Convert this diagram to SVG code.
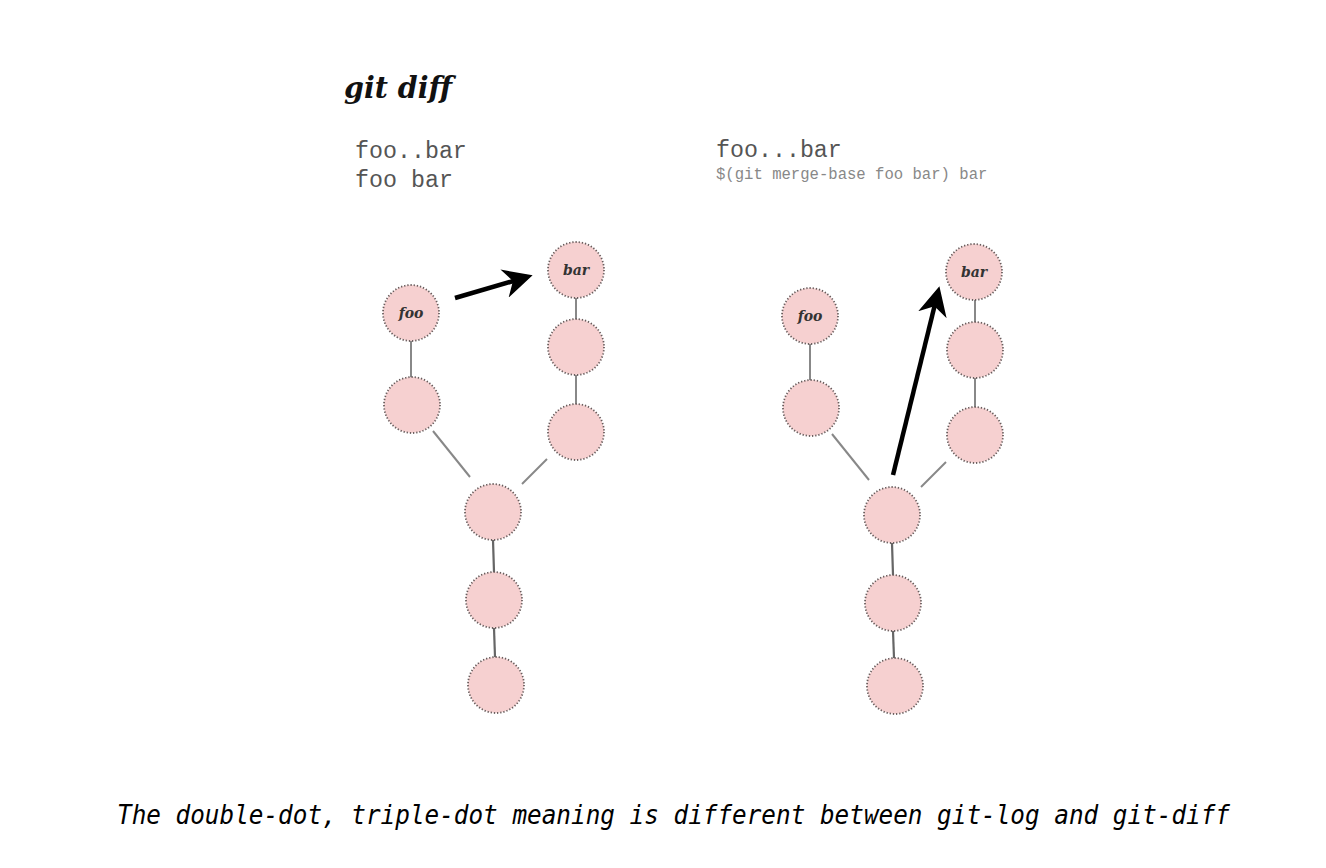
<svg xmlns="http://www.w3.org/2000/svg" width="1326" height="868" viewBox="0 0 1326 868">
<style>
.n{fill:#f6d0d0;stroke:#6a5e5e;stroke-width:1.8;stroke-dasharray:1.3 1.9}
.e{stroke:#888;stroke-width:2;fill:none}
.e2{stroke:#666;stroke-width:2.2;fill:none}
.lbl{font-family:"DejaVu Serif","Liberation Serif",serif;font-style:italic;font-weight:bold;font-size:14px;fill:#333;text-anchor:middle}
.mono{font-family:"Liberation Mono","Courier New",monospace;fill:#555}
.arr{stroke:#000;stroke-width:4.5;fill:none}
</style>
<defs>
<marker id="ah" viewBox="0 0 10 10" refX="8" refY="5" markerWidth="6.5" markerHeight="6.5" markerUnits="strokeWidth" orient="auto">
<path d="M0,0 L10,5 L0,10 L3,5 z" fill="#000"/>
</marker>
</defs>
<rect width="1326" height="868" fill="#fff"/>
<text x="344" y="98" font-family="DejaVu Serif, Liberation Serif, serif" font-style="italic" font-weight="bold" font-size="30" fill="#111" textLength="108" lengthAdjust="spacingAndGlyphs">git diff</text>
<text class="mono" x="355" y="158" font-size="23.3">foo..bar</text>
<text class="mono" x="355" y="187" font-size="23.3">foo bar</text>
<text class="mono" x="716" y="157" font-size="23.3">foo...bar</text>
<text class="mono" x="716" y="179" font-size="15.6" style="fill:#888">$(git merge-base foo bar) bar</text>
<g id="connectors">
<line class="e" x1="411" y1="341" x2="411" y2="378"/>
<line class="e" x1="576" y1="298" x2="576" y2="320"/>
<line class="e" x1="576" y1="375" x2="576" y2="404"/>
<line class="e" x1="433" y1="431" x2="470" y2="477"/>
<line class="e" x1="547" y1="459" x2="522" y2="484"/>
<line class="e2" x1="493" y1="540" x2="494" y2="572"/>
<line class="e2" x1="494" y1="628" x2="495" y2="657"/>
<line class="arr" x1="455" y1="298" x2="527" y2="277" marker-end="url(#ah)"/>
<line class="e" x1="810" y1="344" x2="810" y2="380"/>
<line class="e" x1="975" y1="300" x2="975" y2="322"/>
<line class="e" x1="975" y1="378" x2="975" y2="407"/>
<line class="e" x1="832" y1="434" x2="869" y2="480"/>
<line class="e" x1="946" y1="462" x2="921" y2="487"/>
<line class="e2" x1="892" y1="543" x2="893" y2="575"/>
<line class="e2" x1="893" y1="631" x2="894" y2="658"/>
<line class="arr" x1="893" y1="475" x2="938" y2="292" marker-end="url(#ah)"/>
</g>
<g id="L-foo"><circle class="n" cx="411" cy="313" r="28"/><text class="lbl" x="411" y="318">foo</text></g>
<g id="L-bar"><circle class="n" cx="576" cy="270" r="28"/><text class="lbl" x="576" y="275">bar</text></g>
<g id="L-f1"><circle class="n" cx="412" cy="405" r="28"/></g>
<g id="L-b1"><circle class="n" cx="576" cy="347" r="28"/></g>
<g id="L-b2"><circle class="n" cx="576" cy="432" r="28"/></g>
<g id="L-m"><circle class="n" cx="493" cy="512" r="28"/></g>
<g id="L-c1"><circle class="n" cx="494" cy="600" r="28"/></g>
<g id="L-c2"><circle class="n" cx="496" cy="685" r="28"/></g>
<g id="R-foo"><circle class="n" cx="810" cy="316" r="28"/><text class="lbl" x="810" y="321">foo</text></g>
<g id="R-bar"><circle class="n" cx="974" cy="272" r="28"/><text class="lbl" x="974" y="277">bar</text></g>
<g id="R-f1"><circle class="n" cx="811" cy="408" r="28"/></g>
<g id="R-b1"><circle class="n" cx="975" cy="350" r="28"/></g>
<g id="R-b2"><circle class="n" cx="975" cy="435" r="28"/></g>
<g id="R-m"><circle class="n" cx="892" cy="515" r="28"/></g>
<g id="R-c1"><circle class="n" cx="893" cy="603" r="28"/></g>
<g id="R-c2"><circle class="n" cx="895" cy="686" r="28"/></g>
<text x="117" y="824" font-family="DejaVu Sans Mono, monospace" font-style="italic" font-size="26" fill="#000" textLength="1113" lengthAdjust="spacingAndGlyphs">The double-dot, triple-dot meaning is different between git-log and git-diff</text>
</svg>
